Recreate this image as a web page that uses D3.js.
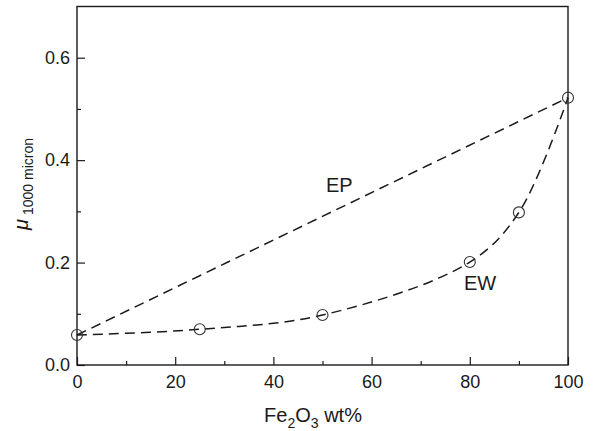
<!DOCTYPE html>
<html>
<head>
<meta charset="utf-8">
<script src="https://cdn.jsdelivr.net/npm/d3@7"></script>
<style>
	body { margin: 0; background: #fff; }
	svg text { font-family: "Liberation Sans", Arial, Helvetica, sans-serif; fill: #1a1a1a; }
</style>
</head>
<body>
<div id="chart"></div>
<script>
//measured points (Fe2O3 wt% vs mu at 1000 micron)
var ew_x = [0, 25, 50, 80, 90, 100];
var ew_y = [0.0585, 0.0697, 0.0976, 0.201, 0.298, 0.522];
//EP mixing line, only the two end members
var ep_x = [0, 100];
var ep_y = [0.0585, 0.522];

var x_ticks = [0, 20, 40, 60, 80, 100];
var x_minor = [10, 30, 50, 70, 90];
var y_ticks = [0.0, 0.2, 0.4, 0.6];
var y_minor = [0.1, 0.3, 0.5];

var settings = {
	width: 596,
	height: 431,
	left: 77,
	right: 568,
	top: 6.5,
	bottom: 365,
	ink: '#1a1a1a'
}

var svg = d3.select('#chart')
	.append('svg')
	.attr('width', settings.width)
	.attr('height', settings.height);

var x = d3.scaleLinear().domain([0, 100]).range([settings.left, settings.right]);
var y = d3.scaleLinear().domain([0, 0.7]).range([settings.bottom, settings.top]);

//ticks point inward, labels sit outside
svg.append('g')
	.attr('transform', 'translate(0,' + settings.bottom + ')')
	.call(d3.axisBottom(x).tickValues(x_ticks).tickSizeInner(-8).tickSizeOuter(0).tickPadding(10).tickFormat(d3.format('d')))
	.call(function(g){ g.select('.domain').remove(); });
svg.append('g')
	.attr('transform', 'translate(0,' + settings.bottom + ')')
	.call(d3.axisBottom(x).tickValues(x_minor).tickSizeInner(-4).tickSizeOuter(0).tickFormat(''))
	.call(function(g){ g.select('.domain').remove(); });
svg.append('g')
	.attr('transform', 'translate(' + settings.left + ',0)')
	.call(d3.axisLeft(y).tickValues(y_ticks).tickSizeInner(-8).tickSizeOuter(0).tickPadding(7).tickFormat(d3.format('.1f')))
	.call(function(g){ g.select('.domain').remove(); });
svg.append('g')
	.attr('transform', 'translate(' + settings.left + ',0)')
	.call(d3.axisLeft(y).tickValues(y_minor).tickSizeInner(-4).tickSizeOuter(0).tickFormat(''))
	.call(function(g){ g.select('.domain').remove(); });

svg.selectAll('.tick line').attr('stroke', settings.ink).attr('stroke-width', 1.2);
svg.selectAll('.tick text')
	.attr('font-size', 18)
	.attr('fill', settings.ink)
	.style('font-family', '"Liberation Sans", Arial, sans-serif');

//frame
svg.append('rect')
	.attr('x', settings.left)
	.attr('y', settings.top)
	.attr('width', settings.right - settings.left)
	.attr('height', settings.bottom - settings.top)
	.attr('fill', 'none')
	.attr('stroke', settings.ink)
	.attr('stroke-width', 1.4);

var ew_data = ew_x.map(function(d, i){ return [d, ew_y[i]]; });
var ep_data = ep_x.map(function(d, i){ return [d, ep_y[i]]; });

var line_ew = d3.line()
	.x(function(d){ return x(d[0]); })
	.y(function(d){ return y(d[1]); })
	.curve(d3.curveCatmullRom.alpha(0.5));
var line_ep = d3.line()
	.x(function(d){ return x(d[0]); })
	.y(function(d){ return y(d[1]); });

svg.append('path')
	.attr('d', line_ep(ep_data))
	.attr('fill', 'none')
	.attr('stroke', settings.ink)
	.attr('stroke-width', 1.5)
	.attr('stroke-dasharray', '10,6');
svg.append('path')
	.attr('d', line_ew(ew_data))
	.attr('fill', 'none')
	.attr('stroke', settings.ink)
	.attr('stroke-width', 1.5)
	.attr('stroke-dasharray', '10,6');

svg.selectAll('.pt')
	.data(ew_data)
	.enter()
	.append('circle')
	.attr('class', 'pt')
	.attr('cx', function(d){ return x(d[0]); })
	.attr('cy', function(d){ return y(d[1]); })
	.attr('r', 5.5)
	.attr('fill', 'none')
	.attr('stroke', '#333')
	.attr('stroke-width', 1.1);

//curve labels
svg.append('text').attr('x', 326).attr('y', 192).attr('font-size', 20).text('EP');
svg.append('text').attr('x', 464).attr('y', 290).attr('font-size', 20).text('EW');

//x title
var xt = svg.append('text')
	.attr('x', 313)
	.attr('y', 422)
	.attr('text-anchor', 'middle')
	.attr('font-size', 20);
xt.append('tspan').text('Fe');
xt.append('tspan').attr('font-size', 14).attr('dy', 6).text('2');
xt.append('tspan').attr('dy', -6).text('O');
xt.append('tspan').attr('font-size', 14).attr('dy', 6).text('3');
xt.append('tspan').attr('dy', -6).text(' wt%');

//y title
var yt = svg.append('text')
	.attr('transform', 'translate(28,230) rotate(-90)')
	.attr('font-size', 20);
yt.append('tspan').attr('font-style', 'italic').text('μ');
yt.append('tspan').attr('font-size', 14).attr('dx', 4).attr('dy', 5).text('1000 micron');
</script>
</body>
</html>
